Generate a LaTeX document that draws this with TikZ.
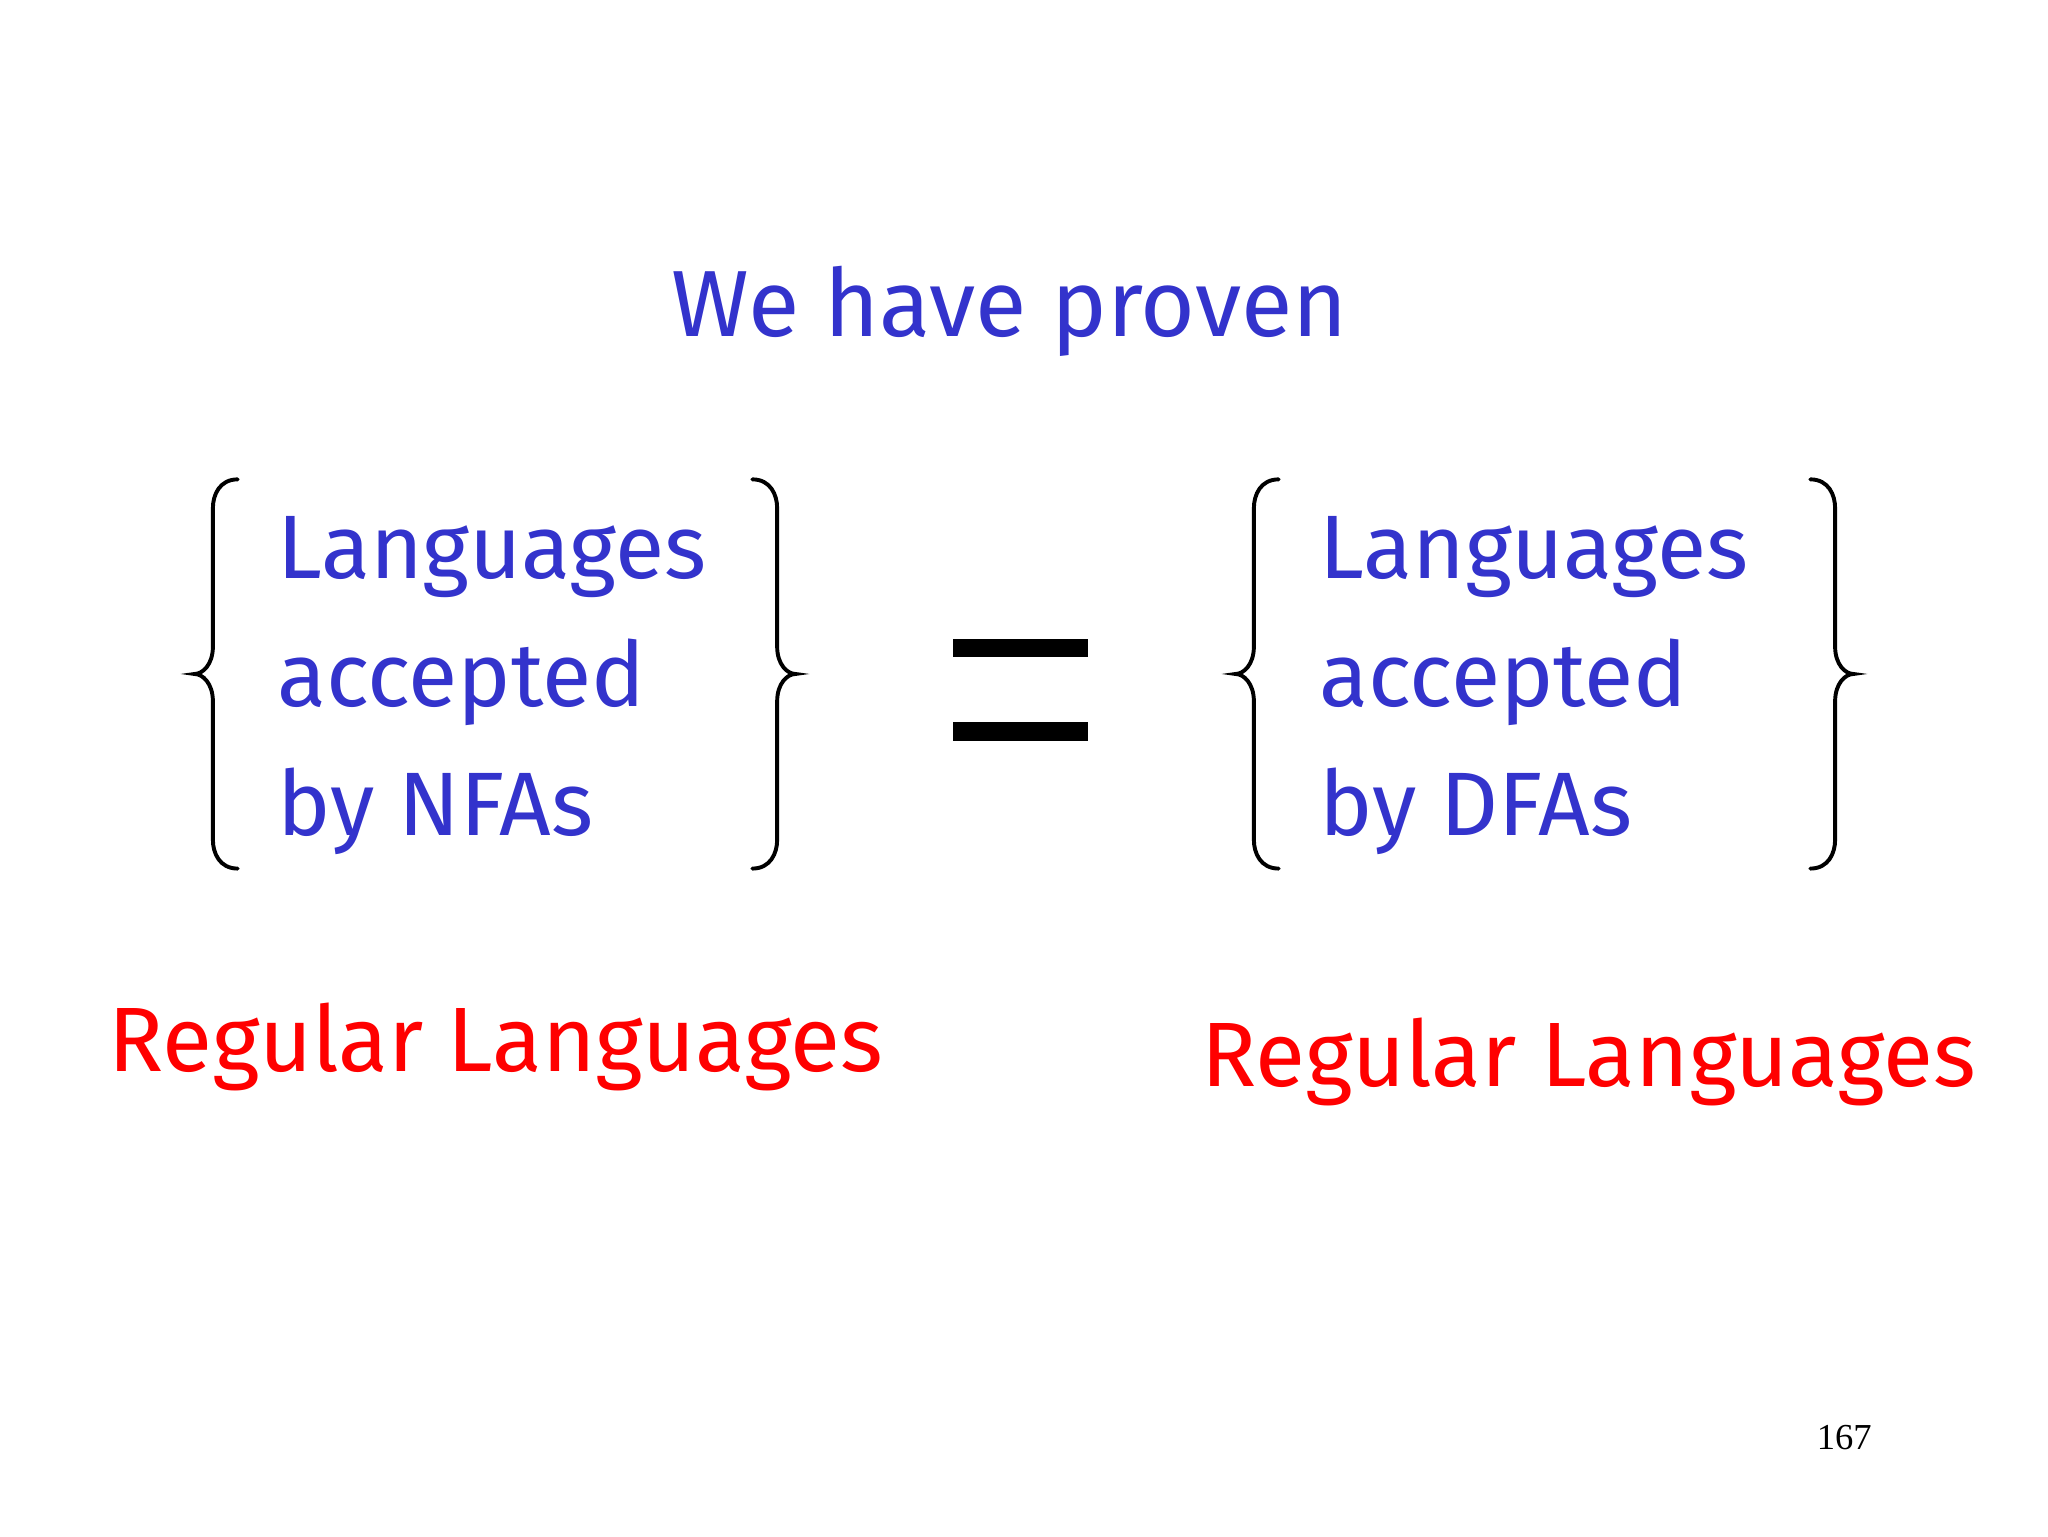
\documentclass[tikz,border=0pt]{standalone}
\usepackage{fontspec}
\setmainfont{Fira Sans}
\newfontfamily\numfont{Liberation Serif}
\definecolor{tblue}{HTML}{3333CC}
\definecolor{tred}{HTML}{FF0000}
\begin{document}
\begin{tikzpicture}[x=1pt,y=-1pt,
  bt/.style={text=tblue,anchor=base west,inner sep=0pt,font=\fontsize{69}{80}\selectfont},
  rt/.style={text=tred,anchor=base west,inner sep=0pt,font=\fontsize{70}{80}\selectfont},
  br/.style={line width=3pt,line cap=round}]
\useasboundingbox[fill=white] (0,0) rectangle (1568,1176);
\node[bt,anchor=base,font=\fontsize{72}{80}\selectfont] (title) at (773,258) {We have proven};
\node[bt] (l1) at (212,443) {Languages};
\node[bt] (l2) at (212,541) {accepted};
\node[bt] (l3) at (212,640) {by NFAs};
\node[bt] (r1) at (1010,443) {Languages};
\node[bt] (r2) at (1010,541) {accepted};
\node[bt] (r3) at (1010,640) {by DFAs};
\node[rt] (rl) at (83,820) {Regular Languages};
\node[rt] (rr) at (920,832) {Regular Languages};
\node[anchor=base,inner sep=0pt,font=\numfont\fontsize{28}{30}\selectfont] (pg) at (1412,1110) {167};
\fill (730,489) rectangle (833,503);
\fill (730,553) rectangle (833,567);
\foreach \a/\d in {182/-1,979/-1,576/1,1386/1}{
  \draw[br] (\a,367) .. controls ++(\d*14,0) and ++(0,-10) .. ++(\d*19,22) -- ++(0,106)
     .. controls ++(0,14) and ++(-\d*6,0) .. ++(\d*14,21)
     .. controls ++(-\d*6,0) and ++(0,-14) .. ++(-\d*14,21) -- ++(0,106)
     .. controls ++(0,10) and ++(\d*14,0) .. ++(-\d*19,22);
}
\end{tikzpicture}
\end{document}
